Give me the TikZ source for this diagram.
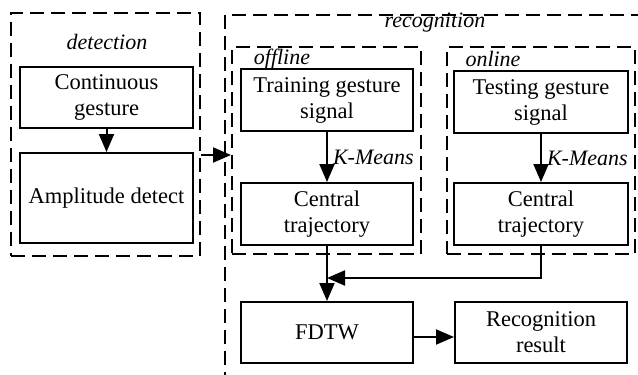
\documentclass[tikz,border=0pt]{standalone}
\usepackage{fontspec}
\setmainfont{Liberation Serif}
\usetikzlibrary{arrows.meta}
\tikzset{
  blk/.style={draw, line width=2pt, align=center, inner sep=0pt,
    font=\fontsize{22.5}{26}\selectfont},
  frame/.style={draw, line width=2pt, dash pattern=on 14pt off 7pt, inner sep=0pt},
  lbl/.style={font=\fontsize{22}{26}\selectfont\itshape, inner sep=0pt},
  arr/.style={line width=2pt, -{Triangle[length=18pt,width=15pt]}},
  lin/.style={line width=2pt}
}
\begin{document}
\begin{tikzpicture}[x=1pt,y=-1pt]
\useasboundingbox (0,0) rectangle (638,375);

% dashed groups
\node[frame, minimum width=189pt, minimum height=243pt] (det) at (105.5,134) {};
\draw[lin, dash pattern=on 14pt off 7pt] (645,15) -- (225,15) -- (225,380);
\node[frame, minimum width=189pt, minimum height=207pt] (off) at (326.5,150.5) {};
\node[frame, minimum width=188pt, minimum height=207pt] (on) at (541,150.5) {};

% group labels
\node[lbl] (tdet) at (107,42) {detection};
\node[lbl] (trec) at (435,23) {recognition};
\node[lbl] (toff) at (282,59) {offline};
\node[lbl] (ton) at (493,59) {online};

% detection blocks
\node[blk, minimum width=173pt, minimum height=61pt] (cg) at (106.5,97.5) {Continuous\\gesture};
\node[blk, minimum width=173pt, minimum height=90pt] (ad) at (106.5,198) {Amplitude detect};

% offline blocks
\node[blk, minimum width=172pt, minimum height=62pt] (tr) at (327,100) {Training gesture\\signal};
\node[blk, minimum width=172pt, minimum height=62pt] (ct1) at (327,214) {Central\\trajectory};

% online blocks
\node[blk, minimum width=174pt, minimum height=62pt] (te) at (541,102) {Testing gesture\\signal};
\node[blk, minimum width=174pt, minimum height=62pt] (ct2) at (541,214) {Central\\trajectory};

% matching blocks
\node[blk, minimum width=172pt, minimum height=61pt] (fd) at (327,332.5) {FDTW};
\node[blk, minimum width=172pt, minimum height=61pt] (rr) at (541,332.5) {Recognition\\result};

% connectors
\draw[arr] (cg) -- (ad);
\coordinate (jin) at ([yshift=-4.5pt]off.west);
\draw[arr] (jin -| det.east) -- (jin);
\draw[arr] (tr) -- node[lbl, right=5pt, pos=0.5] (km1) {K-Means} (ct1);
\draw[arr] (te) -- node[lbl, right=5pt, pos=0.5] (km2) {K-Means} (ct2);
\draw[arr] (ct1) -- (fd);
\coordinate (merge) at (327,278);
\draw[arr] (ct2.south) |- (merge);
\coordinate (jres) at ([yshift=-4.5pt]rr.west);
\draw[arr] (jres -| fd.east) -- (jres);
\end{tikzpicture}
\end{document}
